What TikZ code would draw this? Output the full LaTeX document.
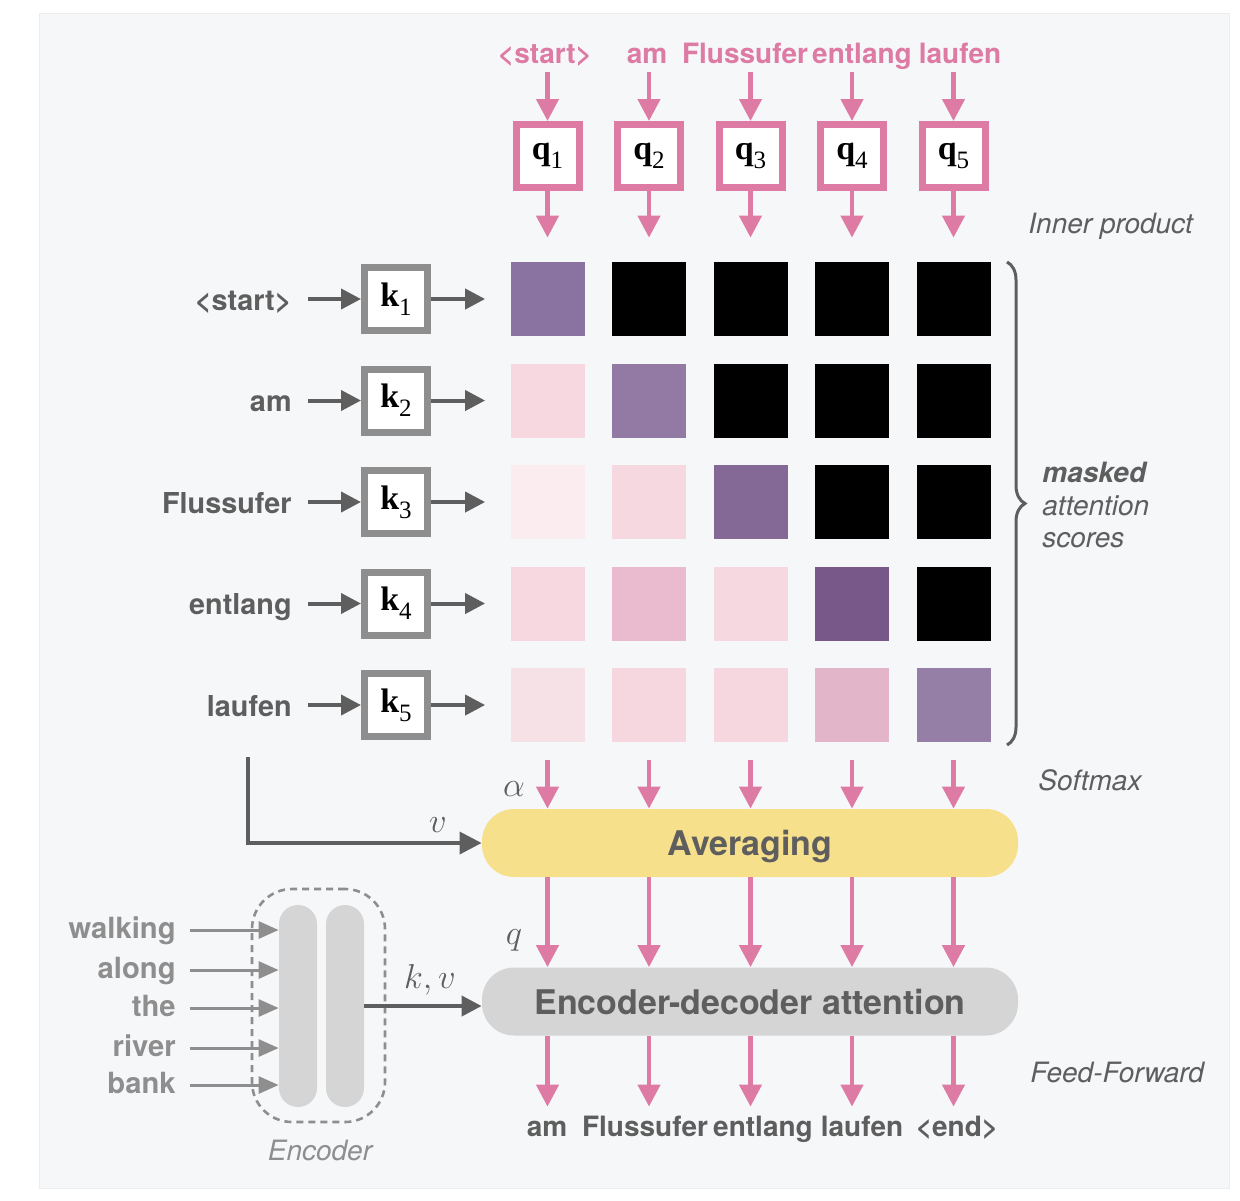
\documentclass[tikz,border=0pt]{standalone}
\usepackage{fontspec}
\setmainfont{TeX Gyre Heros}
\newfontfamily\serifb{Liberation Serif}
\newcommand\qklab[2]{{\serifb\bfseries\fontsize{17}{20}\selectfont #1}\raisebox{-4.5pt}{\serifb\fontsize{12.5}{14}\selectfont #2}}
\usetikzlibrary{arrows.meta,decorations.pathreplacing}
\definecolor{bgc}{HTML}{F6F7F9}
\definecolor{pk}{HTML}{DD7BA5}
\definecolor{dg}{HTML}{5E5E5E}
\definecolor{lg}{HTML}{8E8E8E}
\definecolor{yl}{HTML}{F6E08C}
\definecolor{gb}{HTML}{D5D5D5}
\definecolor{m11}{HTML}{8A73A0}
\definecolor{m21}{HTML}{F7D8E0}
\definecolor{m22}{HTML}{927AA4}
\definecolor{m31}{HTML}{FAECEF}
\definecolor{m32}{HTML}{F6D8E0}
\definecolor{m33}{HTML}{846996}
\definecolor{m41}{HTML}{F7D8E0}
\definecolor{m42}{HTML}{EABACE}
\definecolor{m43}{HTML}{F6D8E0}
\definecolor{m44}{HTML}{775889}
\definecolor{m51}{HTML}{F5E1E6}
\definecolor{m52}{HTML}{F6D7DF}
\definecolor{m53}{HTML}{F6D7DF}
\definecolor{m54}{HTML}{E2B6C8}
\definecolor{m55}{HTML}{967FA6}
\begin{document}
\begin{tikzpicture}[x=0.5pt,y=-0.5pt,
  word/.style={inner sep=2pt, text height=0.75em, text depth=0.25em, font=\bfseries\fontsize{14}{16}\selectfont},
  lword/.style={word, font=\bfseries\fontsize{14.4}{16}\selectfont, text=dg, anchor=east},
  eword/.style={word, font=\bfseries\fontsize{14.6}{16}\selectfont, text=lg, anchor=east},
  itlabel/.style={font=\itshape\fontsize{14}{16.25}\selectfont, text=dg, inner sep=0pt, anchor=west},
  mathlabel/.style={font=\fontsize{16}{19}\selectfont, text=dg, inner sep=0pt},
  qbox/.style={draw=pk, line width=3.5pt, fill=white, minimum size=31.5pt, inner sep=0pt},
  kbox/.style={qbox, draw=lg},
  cell/.style={minimum size=37pt, inner sep=0pt},
  pillbox/.style={rounded corners=16pt, minimum width=268pt, minimum height=34pt, inner sep=0pt, text depth=0pt, text=dg, font=\bfseries\fontsize{17}{20}\selectfont},
  encbar/.style={fill=gb, rounded corners=9.5pt, minimum width=19pt, minimum height=101pt, inner sep=0pt},
  parrow/.style={draw=pk, line width=2.2pt, -{Triangle[width=11pt,length=11pt]}},
  darrow/.style={draw=dg, line width=2pt, -{Triangle[width=10pt,length=10pt]}},
  garrow/.style={draw=lg, line width=1.5pt, -{Triangle[width=8.5pt,length=10pt]}}
]
\useasboundingbox (0,0) rectangle (1240,1200);
\fill[white] (0,0) rectangle (1240,1200);
\fill[bgc] (39,13) rectangle (1229,1188);
\draw[black!7, line width=0.5pt] (39,13) rectangle (1229,1188);

% grid cells
\foreach \r/\c/\col in {1/1/m11,1/2/black,1/3/black,1/4/black,1/5/black,
  2/1/m21,2/2/m22,2/3/black,2/4/black,2/5/black,
  3/1/m31,3/2/m32,3/3/m33,3/4/black,3/5/black,
  4/1/m41,4/2/m42,4/3/m43,4/4/m44,4/5/black,
  5/1/m51,5/2/m52,5/3/m53,5/4/m54,5/5/m55}
  \node[cell, fill=\col] (c\r\c) at ({547.5+(\c-1)*101.5},{299+(\r-1)*101.5}) {};

% query boxes and top words
\foreach \i/\x/\t in {1/545/{<start>},2/647/am,3/745/Flussufer,4/862/entlang,5/960/laufen}{
  \node[word, text=pk] (tw\i) at (\x,58) {\t};
  \node[qbox] (q\i) at ({547.5+(\i-1)*101.5},156) {\qklab{q}{\i}};
  \draw[parrow] (tw\i.south -| q\i.north) -- (q\i.north);
  \draw[parrow, shorten >=12pt] (q\i.south) -- (c1\i.north);
}

% key boxes and left words
\foreach \i/\t in {1/{<start>},2/am,3/Flussufer,4/entlang,5/laufen}{
  \node[lword] (lw\i) at (296,{305+(\i-1)*101.5}) {\t};
  \node[kbox] (k\i) at (396,{299+(\i-1)*101.5}) {\qklab{k}{\i}};
  \draw[darrow, shorten <=6pt] (lw\i.east |- k\i.west) -- (k\i.west);
  \draw[darrow, shorten >=12.5pt] (k\i.east) -- (c\i1.west);
}

% averaging and encoder-decoder attention
\node[pillbox, fill=yl] (avg) at (750,843) {Averaging};
\node[pillbox, fill=gb] (ed) at (750,1001.5) {Encoder-decoder attention};

\foreach \j/\x/\t in {1/547/am,2/645/Flussufer,3/763/entlang,4/862/laufen,5/957/{<end>}}{
  \node[word, text=dg] (bw\j) at (\x,1131) {\t};
  \draw[parrow, shorten <=9pt] (c5\j.south) -- (c5\j.south |- avg.north);
  \draw[parrow] (c5\j.south |- avg.south) -- (c5\j.south |- ed.north);
  \draw[parrow, shorten >=5pt] (c5\j.south |- ed.south) -- (c5\j.south |- bw\j.north);
}

% value path
\coordinate (vs) at (248,757);
\draw[darrow, line width=1.8pt, -{Triangle[width=11pt,length=11pt]}] (vs) |- (avg.west);

% math labels
\node[mathlabel] (alpha) at (514,789) {$\alpha$};
\node[mathlabel] (qlab) at (514,940) {$q$};
\node[mathlabel] (vlab) at (438,825) {$v$};
\node[mathlabel] (kvlab) at (430,980) {$k, v$};

% brace and side labels
\draw[dg, line width=1.5pt, decorate, decoration={brace, amplitude=9pt}] (1007,262) -- (1007,745);
\node[itlabel] (inner) at (1028,226) {Inner product};
\node[itlabel] (soft) at (1038,780) {Softmax};
\node[itlabel] (ff) at (1030,1072) {Feed-Forward};
\node[itlabel, align=left] (mask) at (1042,505) {{\bfseries masked}\\attention\\scores};

% encoder
\node[draw=lg, dashed, dash pattern=on 3.5pt off 2.5pt, line width=1.3pt, rounded corners=20pt, minimum width=66.5pt, minimum height=116.5pt, inner sep=0pt] (encbox) at (318.5,1005.5) {};
\node[encbar] (e1) at (298,1006) {};
\node[encbar] (e2) at (345,1006) {};
\node[itlabel, text=lg, anchor=center] (enclab) at (320,1150) {Encoder};
\foreach \i/\y/\t in {1/933/walking,2/973/along,3/1011/the,4/1051/river,5/1088/bank}{
  \node[eword] (ew\i) at (180,\y) {\t};
  \draw[garrow, shorten <=5pt] ([yshift=1.5pt]ew\i.east) -- ([yshift=1.5pt]ew\i.east -| e1.west);
}
\draw[darrow] (e2.east) -- (e2.east -| ed.west);
\end{tikzpicture}
\end{document}
